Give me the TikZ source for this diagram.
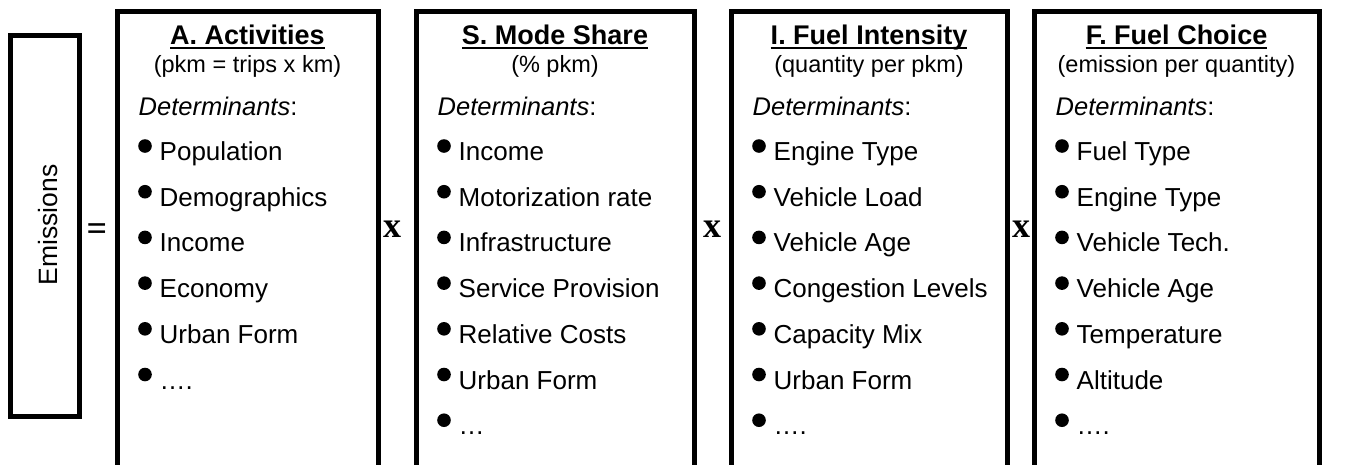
\documentclass[tikz,border=0pt]{standalone}
\usepackage{fontspec}
\setmainfont{Liberation Sans}
\newfontfamily\timesface{Liberation Serif}
\usetikzlibrary{calc}

\tikzset{
  factor/.style={draw, line width=5pt, minimum height=464, inner sep=0pt},
  boxtitle/.style={anchor=base, inner sep=0pt, font=\fontsize{27}{32}\selectfont\bfseries},
  boxunit/.style={anchor=base, inner sep=0pt, font=\fontsize{23.5}{28}\selectfont},
  detlabel/.style={anchor=base west, inner sep=0pt, font=\fontsize{25.5}{30}\selectfont},
  item/.style={anchor=base west, inner sep=0pt, font=\fontsize{26}{31}\selectfont},
  op/.style={inner sep=0pt, font=\fontsize{36}{40}\selectfont\timesface\bfseries},
  titleline/.style={line width=2.2pt}
}

\begin{document}
\begin{tikzpicture}[x=1pt,y=-1pt]
\useasboundingbox (0,0) rectangle (1351,464);

% left hand side
\node[draw, line width=5pt, minimum width=69, minimum height=381, inner sep=0pt] (emis) at (44.5,225.5) {};
\node[rotate=90, anchor=base, inner sep=0pt, font=\fontsize{26.5}{31}\selectfont] (emistext) at (57.5,225) {Emissions};
\node[op] (eq) at (97,232) {=};

% the four factors
\node[factor, minimum width=261] (boxA) at (247.5,243) {};
\node[factor, minimum width=278] (boxS) at (555,243) {};
\node[factor, minimum width=276] (boxI) at (869,243) {};
\node[factor, minimum width=285] (boxF) at (1176.5,243) {};

\node[op] (xAS) at (392,229) {x};
\node[op] (xSI) at (712,229) {x};
\node[op] (xIF) at (1021,229) {x};

% titles
\node[boxtitle] (titA) at ($(boxA.north)+(0,36)$) {A. Activities};
\node[boxunit] (unitA) at ($(boxA.north)+(0,64)$) {(pkm = trips x km)};
\node[boxtitle] (titS) at ($(boxS.north)+(0,36)$) {S. Mode Share};
\node[boxunit] (unitS) at ($(boxS.north)+(0,64)$) {(\% pkm)};
\node[boxtitle] (titI) at ($(boxI.north)+(0,36)$) {I. Fuel Intensity};
\node[boxunit] (unitI) at ($(boxI.north)+(0,64)$) {(quantity per pkm)};
\node[boxtitle] (titF) at ($(boxF.north)+(0,36)$) {F. Fuel Choice};
\node[boxunit] (unitF) at ($(boxF.north)+(0,64)$) {(emission per quantity)};
\foreach \b in {A,S,I,F}
  \draw[titleline] ($(tit\b.base west)+(0,3.5)$) -- ($(tit\b.base east)+(0,3.5)$);

% determinants
\foreach \b in {A,S,I,F}
  \node[detlabel] (det\b) at ($(box\b.north west)+(24,107)$) {\textit{Determinants}:};

\foreach \t [count=\i] in {Population, Demographics, Income, Economy, Urban Form, ….}{
  \fill ($(boxA.north west)+(30.5,137.5+45.7*\i-45.7)$) circle (6.8);
  \node[item] (itA\i) at ($(boxA.north west)+(45,152+45.7*\i-45.7)$) {\t};
}
\foreach \t [count=\i] in {Income, Motorization rate, Infrastructure, Service Provision, Relative Costs, Urban Form, …}{
  \fill ($(boxS.north west)+(30.5,137.5+45.7*\i-45.7)$) circle (6.8);
  \node[item] (itS\i) at ($(boxS.north west)+(45,152+45.7*\i-45.7)$) {\t};
}
\foreach \t [count=\i] in {Engine Type, Vehicle Load, Vehicle Age, Congestion Levels, Capacity Mix, Urban Form, ….}{
  \fill ($(boxI.north west)+(30.5,137.5+45.7*\i-45.7)$) circle (6.8);
  \node[item] (itI\i) at ($(boxI.north west)+(45,152+45.7*\i-45.7)$) {\t};
}
\foreach \t [count=\i] in {Fuel Type, Engine Type, Vehicle Tech., Vehicle Age, Temperature, Altitude, ….}{
  \fill ($(boxF.north west)+(30.5,137.5+45.7*\i-45.7)$) circle (6.8);
  \node[item] (itF\i) at ($(boxF.north west)+(45,152+45.7*\i-45.7)$) {\t};
}
\end{tikzpicture}
\end{document}
